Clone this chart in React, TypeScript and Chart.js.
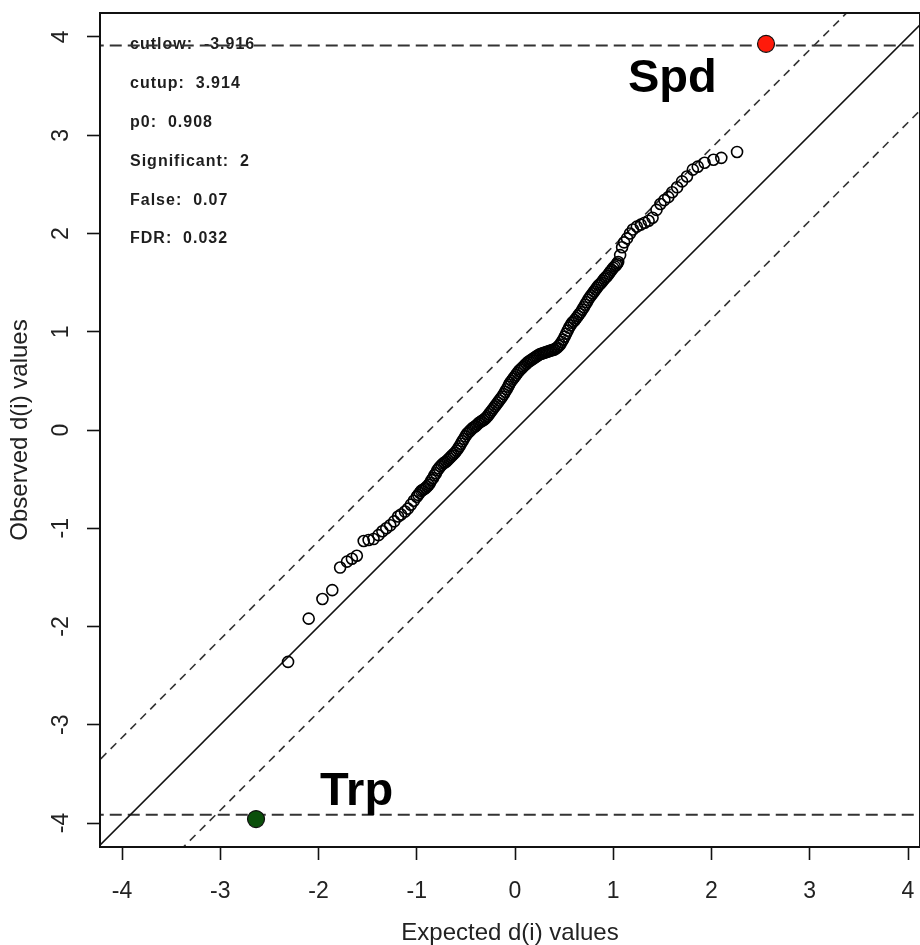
import React, { useEffect, useRef } from "react";
import { Chart, registerables } from "chart.js";

Chart.register(...registerables);

// ---- data ----
const X_TICKS = [-4, -3, -2, -1, 0, 1, 2, 3, 4];
const Y_TICKS = [-4, -3, -2, -1, 0, 1, 2, 3, 4];
const X_MIN = -4.224;
const X_MAX = 4.122;
const Y_MIN = -4.244;
const Y_MAX = 4.244;

const EXPECTED = [
  -2.31, -2.1, -1.96, -1.86, -1.78, -1.71, -1.66, -1.61, -1.54, -1.49, -1.44, -1.39, -1.35, -1.31, -1.27, -1.23,
  -1.19, -1.16, -1.12, -1.09, -1.06, -1.03, -1.0, -0.97, -0.94, -0.91, -0.88, -0.85, -0.82, -0.79, -0.76, -0.73,
  -0.7, -0.67, -0.64, -0.61, -0.58, -0.55, -0.52, -0.49, -0.46, -0.43, -0.4, -0.37, -0.34, -0.31, -0.28, -0.25,
  -0.22, -0.19, -0.16, -0.13, -0.1, -0.07, -0.05, -0.02, 0.01, 0.04, 0.07, 0.1, 0.13, 0.16, 0.19, 0.22, 0.25,
  0.28, 0.31, 0.34, 0.37, 0.4, 0.43, 0.46, 0.49, 0.52, 0.55, 0.58, 0.61, 0.64, 0.67, 0.7, 0.73, 0.76, 0.79, 0.82,
  0.85, 0.88, 0.91, 0.94, 0.97, 1.0, 1.03, 1.05, 1.07, 1.09, 1.11, 1.14, 1.17, 1.2, 1.24, 1.28, 1.32, 1.36, 1.4,
  1.44, 1.48, 1.52, 1.56, 1.6, 1.65, 1.7, 1.75, 1.81, 1.86, 1.93, 2.02, 2.1, 2.26,
];
const OBSERVED = [
  -2.36, -1.92, -1.72, -1.63, -1.4, -1.34, -1.31, -1.28, -1.13, -1.12, -1.11, -1.07, -1.03, -1.0, -0.97, -0.93,
  -0.88, -0.86, -0.83, -0.8, -0.76, -0.72, -0.68, -0.64, -0.61, -0.59, -0.56, -0.51, -0.46, -0.41, -0.37, -0.34,
  -0.32, -0.29, -0.26, -0.23, -0.19, -0.14, -0.09, -0.04, -0.01, 0.02, 0.04, 0.07, 0.09, 0.11, 0.14, 0.18,
  0.22, 0.26, 0.3, 0.34, 0.39, 0.44, 0.48, 0.52, 0.56, 0.6, 0.63, 0.66, 0.69, 0.71, 0.73, 0.75, 0.77,
  0.78, 0.79, 0.8, 0.81, 0.82, 0.84, 0.87, 0.92, 0.98, 1.04, 1.09, 1.12, 1.16, 1.2, 1.25, 1.3, 1.35, 1.39, 1.43,
  1.47, 1.5, 1.54, 1.57, 1.61, 1.65, 1.68, 1.71, 1.78, 1.86, 1.91, 1.95, 2.0, 2.04, 2.07, 2.09, 2.11, 2.13, 2.16,
  2.24, 2.3, 2.34, 2.37, 2.42, 2.47, 2.53, 2.58, 2.65, 2.68, 2.72, 2.75, 2.77, 2.83,
];

// additional genes packed inside the dense central band
const EXPECTED_DENSE = [
  -0.985, -0.955, -0.925, -0.895, -0.865, -0.835, -0.805, -0.775, -0.745, -0.715, -0.685, -0.655, -0.625, -0.595,
  -0.565, -0.535, -0.505, -0.475, -0.445, -0.415, -0.385, -0.355, -0.325, -0.295, -0.265, -0.235, -0.205, -0.175,
  -0.145, -0.115, -0.085, -0.06, -0.035, -0.005, 0.025, 0.055, 0.085, 0.115, 0.145, 0.175, 0.205, 0.235, 0.265,
  0.295, 0.325, 0.355, 0.385, 0.415, 0.445, 0.475, 0.505, 0.535, 0.565, 0.595, 0.625, 0.655, 0.685, 0.715, 0.745,
  0.775, 0.805, 0.835, 0.865, 0.895, 0.925, 0.955, 0.985, 1.015, 1.04,
];
const OBSERVED_DENSE = [
  -0.66, -0.62, -0.6, -0.575, -0.54, -0.49, -0.44, -0.39, -0.355, -0.33, -0.305, -0.275, -0.245, -0.21,
  -0.165, -0.115, -0.065, -0.025, 0.005, 0.03, 0.055, 0.08, 0.1, 0.125, 0.16, 0.2, 0.24, 0.28,
  0.32, 0.365, 0.415, 0.46, 0.5, 0.54, 0.58, 0.615, 0.645, 0.675, 0.7, 0.72, 0.74, 0.76, 0.775,
  0.785, 0.795, 0.805, 0.815, 0.83, 0.855, 0.895, 0.95, 1.01, 1.065, 1.105, 1.14, 1.18, 1.225, 1.275, 1.325,
  1.37, 1.41, 1.45, 1.485, 1.52, 1.555, 1.59, 1.63, 1.665, 1.695,
];

const SIG_GENES = ["Spd", "Trp"];
const SIG_EXPECTED = [2.555, -2.636];
const SIG_OBSERVED = [3.93, -3.96];
const SIG_COLORS = ["#ff1a0a", "#0b4f0b"];
// where each gene name is written (left / baseline), in data units
const SIG_LABEL_X = [1.15, -1.985];
const SIG_LABEL_Y = [3.44, -3.817];

const CUTUP = 3.914;
const CUTLOW = -3.916;
const DELTA = 0.87;

const STATS = [
  "cutlow:  -3.916",
  "cutup:  3.914",
  "p0:  0.908",
  "Significant:  2",
  "False:  0.07",
  "FDR:  0.032",
];

const FONT = '"Liberation Sans", Arial, sans-serif';

const annotations = {
  id: "samAnnotations",
  beforeDatasetsDraw(chart: any) {
    const { ctx, chartArea: a } = chart;
    ctx.save();
    ctx.fillStyle = "#1e1e1e";
    ctx.font = `bold 16px ${FONT}`;
    (ctx as any).letterSpacing = "1px";
    ctx.textBaseline = "middle";
    ctx.textAlign = "left";
    STATS.forEach((s, i) => ctx.fillText(s, a.left + 30, a.top + 32 + i * 38.8));
    ctx.restore();
  },
  afterDatasetsDraw(chart: any) {
    const { ctx, chartArea: a, scales } = chart;
    const xs = scales.x;
    const ys = scales.y;
    ctx.save();
    ctx.fillStyle = "#000";
    ctx.font = `bold 47px ${FONT}`;
    ctx.textBaseline = "alphabetic";
    ctx.textAlign = "left";
    SIG_GENES.forEach((g, i) => {
      ctx.fillText(g, xs.getPixelForValue(SIG_LABEL_X[i]), ys.getPixelForValue(SIG_LABEL_Y[i]));
    });
    // frame
    ctx.strokeStyle = "#111";
    ctx.lineWidth = 2;
    ctx.strokeRect(a.left, a.top, a.right - a.left, a.bottom - a.top);
    ctx.restore();
  },
};

export default function App() {
  const ref = useRef<HTMLCanvasElement | null>(null);

  useEffect(() => {
    if (!ref.current) return;

    const lineX = [X_MIN - 1, X_MAX + 1];
    const genePoints = EXPECTED.map((x, i) => ({ x, y: OBSERVED[i] })).concat(
      EXPECTED_DENSE.map((x, i) => ({ x, y: OBSERVED_DENSE[i] }))
    );
    const datasets: any[] = [
      {
        label: "significant",
        data: SIG_EXPECTED.map((x, i) => ({ x, y: SIG_OBSERVED[i] })),
        pointRadius: 8.5,
        pointBorderWidth: 1.2,
        pointBorderColor: "#111",
        pointBackgroundColor: SIG_COLORS,
        showLine: false,
      },
      {
        label: "genes",
        data: genePoints,
        pointRadius: 5.5,
        pointBorderWidth: 1.6,
        pointBorderColor: "#000",
        pointBackgroundColor: "rgba(0,0,0,0)",
        showLine: false,
      },
      {
        label: "identity",
        data: lineX.map((x) => ({ x, y: x })),
        showLine: true,
        borderColor: "#111",
        borderWidth: 1.6,
        pointRadius: 0,
        clip: 0,
      },
      {
        label: "upper",
        data: lineX.map((x) => ({ x, y: x + DELTA })),
        showLine: true,
        borderColor: "#333",
        borderWidth: 1.6,
        borderDash: [8, 6],
        pointRadius: 0,
        clip: 0,
      },
      {
        label: "lower",
        data: lineX.map((x) => ({ x, y: x - DELTA })),
        showLine: true,
        borderColor: "#333",
        borderWidth: 1.6,
        borderDash: [8, 6],
        pointRadius: 0,
        clip: 0,
      },
      {
        label: "cutup",
        data: lineX.map((x) => ({ x, y: CUTUP })),
        showLine: true,
        borderColor: "#333",
        borderWidth: 2,
        borderDash: [12, 6],
        pointRadius: 0,
        clip: 0,
      },
      {
        label: "cutlow",
        data: lineX.map((x) => ({ x, y: CUTLOW })),
        showLine: true,
        borderColor: "#333",
        borderWidth: 2,
        borderDash: [12, 6],
        pointRadius: 0,
        clip: 0,
      },
    ];

    const chart = new Chart(ref.current, {
      type: "scatter",
      data: { datasets },
      options: {
        animation: false,
        responsive: false,
        devicePixelRatio: 1,
        layout: { padding: { top: 13, left: 0, right: 0, bottom: 0 }, autoPadding: false } as any,
        plugins: {
          legend: { display: false },
          tooltip: { enabled: false },
        },
        scales: {
          x: {
            type: "linear",
            min: X_MIN,
            max: X_MAX,
            afterBuildTicks: (s: any) => {
              s.ticks = X_TICKS.map((v) => ({ value: v }));
            },
            afterFit: (s: any) => {
              s.height = 98;
              s.paddingLeft = 0;
              s.paddingRight = 0;
            },
            grid: {
              display: true,
              drawOnChartArea: false,
              drawTicks: true,
              tickLength: 13,
              tickWidth: 1.6,
              tickColor: "#111",
            },
            border: { display: false },
            ticks: {
              color: "#222",
              font: { family: FONT, size: 23 },
              padding: 18,
              maxRotation: 0,
              autoSkip: false,
              callback: (v: any) => String(v),
            },
            title: {
              display: true,
              text: "Expected d(i) values",
              color: "#222",
              font: { family: FONT, size: 24, lineHeight: 1 },
              padding: { top: 0, bottom: 0 },
            },
          },
          y: {
            type: "linear",
            min: Y_MIN,
            max: Y_MAX,
            afterBuildTicks: (s: any) => {
              s.ticks = Y_TICKS.map((v) => ({ value: v }));
            },
            afterFit: (s: any) => {
              s.width = 100;
              s.paddingTop = 0;
              s.paddingBottom = 0;
            },
            grid: {
              display: true,
              drawOnChartArea: false,
              drawTicks: true,
              tickLength: 13,
              tickWidth: 1.6,
              tickColor: "#111",
            },
            border: { display: false },
            ticks: {
              color: "#222",
              font: { family: FONT, size: 23 },
              padding: 15,
              minRotation: 90,
              maxRotation: 90,
              crossAlign: "center",
              autoSkip: false,
              callback: (v: any) => String(v),
            },
            title: {
              display: true,
              text: "Observed d(i) values",
              color: "#222",
              font: { family: FONT, size: 24, lineHeight: 1 },
              padding: { top: 8, bottom: 0 },
            },
          },
        },
      },
      plugins: [annotations],
    });

    return () => chart.destroy();
  }, []);

  return (
    <div style={{ position: "absolute", left: 0, top: 0, width: 920, height: 945, background: "#fff" }}>
      <canvas ref={ref} width={920} height={945} style={{ display: "block" }} />
    </div>
  );
}
